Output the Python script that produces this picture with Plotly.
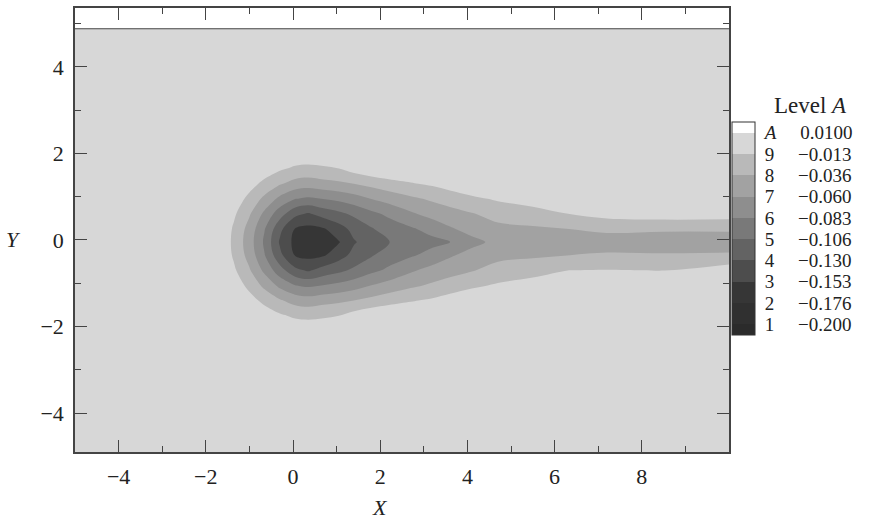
import plotly.graph_objects as go

# ---- grid nodes ----
x_nodes = [-5, -3, -2.1, -1.7, -1.35, -1.0, -0.65, -0.3, 0.05, 0.35, 0.7, 1.05, 1.4,
           1.8, 2.2, 2.7, 3.2, 3.6, 4.1, 4.7, 5.5, 6.3, 7.2, 8.5, 10]
y_nodes = [-4.9, -3.0, -2.2, -1.75, -1.4, -1.05, -0.7, -0.35, -0.05, 0.25, 0.6, 0.95,
           1.3, 1.65, 2.1, 3.0, 4.88]

# ---- field values, one row per y node (bottom to top) ----
row_far = [-0.002] * 25
row_b215 = [-0.002, -0.002, -0.002, -0.002, -0.002, -0.002, 0.008, 0.008, 0.008, 0.008, 0.008, 0.008,
            -0.002, -0.002, -0.002, -0.002, -0.002, -0.002, -0.002, -0.002, -0.002, -0.002, -0.002, -0.002, -0.002]
row_b170 = [-0.002, -0.002, -0.002, -0.002, -0.002, 0.008, 0.0014, -0.010, -0.0171, -0.019, -0.0166, -0.0135,
            -0.0037, 0.0045, 0.008, 0.008, -0.002, -0.002, -0.002, -0.002, -0.002, -0.002, -0.002, -0.002, -0.002]
row_b135 = [-0.002, -0.002, -0.002, -0.002, 0.008, -0.0033, -0.0205, -0.0342, -0.0456, -0.0491, -0.0444, -0.0412,
            -0.0365, -0.0295, -0.0223, -0.0153, -0.0097, -0.003, 0.0036, -0.002, -0.002, -0.002, -0.002, -0.002, -0.002]
row_b100 = [-0.002, -0.002, -0.002, 0.008, 0.0014, -0.0205, -0.0423, -0.066, -0.0826, -0.0876, -0.083, -0.0775,
            -0.0703, -0.0598, -0.0509, -0.0412, -0.033, -0.0263, -0.0179, -0.0104, -0.002, -0.004, -0.004, -0.004, -0.002]
row_b065 = [-0.002, -0.002, -0.002, 0.008, -0.010, -0.0342, -0.066, -0.0971, -0.1244, -0.133, -0.1208, -0.1126,
            -0.1021, -0.0893, -0.0788, -0.0636, -0.0519, -0.0457, -0.0383, -0.0285, -0.024, -0.0135, -0.0125, -0.0138, -0.0005]
row_b030 = [-0.002, -0.002, -0.002, 0.008, -0.0171, -0.0456, -0.0826, -0.1244, -0.1549, -0.1599, -0.1562, -0.1401,
            -0.123, -0.109, -0.0957, -0.0868, -0.0752, -0.063, -0.0524, -0.043, -0.040, -0.037, -0.0342, -0.0352, -0.0346]
row_axis = [-0.002, -0.002, -0.002, 0.0073, -0.019, -0.0491, -0.0876, -0.133, -0.1599, -0.172, -0.170, -0.155,
            -0.132, -0.119, -0.107, -0.098, -0.0898, -0.0835, -0.0664, -0.054, -0.052, -0.049, -0.047, -0.046, -0.045]
row_t030 = [-0.002, -0.002, -0.002, 0.008, -0.0171, -0.0456, -0.0826, -0.1244, -0.1549, -0.1599, -0.1562, -0.1401,
            -0.123, -0.109, -0.0957, -0.0868, -0.0752, -0.063, -0.0524, -0.043, -0.040, -0.037, -0.0324, -0.0344, -0.0346]
row_t065 = [-0.002, -0.002, -0.002, 0.008, -0.010, -0.0342, -0.066, -0.0971, -0.1244, -0.133, -0.1208, -0.1126,
            -0.1021, -0.0893, -0.0788, -0.0636, -0.0519, -0.0457, -0.0383, -0.0285, -0.024, -0.0135, -0.0052, -0.001, -0.0017]
row_t100 = [-0.002, -0.002, -0.002, 0.008, 0.0014, -0.0205, -0.0423, -0.066, -0.0826, -0.0876, -0.083, -0.0775,
            -0.0703, -0.0598, -0.0509, -0.0412, -0.033, -0.0263, -0.0179, -0.0104, -0.002, -0.004, -0.002, -0.002, -0.002]
row_t135 = row_b135
row_t170 = row_b170
row_t215 = row_b215

z_rows = [row_far, row_far, row_b215, row_b170, row_b135, row_b100, row_b065, row_b030, row_axis,
          row_t030, row_t065, row_t100, row_t135, row_t170, row_t215, row_far, row_far]

# ---- legend levels ----
level_names = ['1', '2', '3', '4', '5', '6', '7', '8', '9', '<i>A</i>']
level_text = ['\u22120.200', '\u22120.176', '\u22120.153', '\u22120.130', '\u22120.106',
              '\u22120.083', '\u22120.060', '\u22120.036', '\u22120.013', '0.0100']
level_start = -0.200
level_end = 0.0100

band_colors = ['#2b2b2b', '#303030', '#363636', '#4d4d4d', '#636363', '#797979',
               '#8e8e8e', '#a2a2a2', '#b9b9b9', '#d7d7d7', '#ffffff']

n_lev = len(level_names)
level_size = (level_end - level_start) / (n_lev - 1)
tickvals = [level_start + i * level_size for i in range(n_lev)]
ticktext = [n + '\u00a0' * 5 + t for n, t in zip(level_names, level_text)]
colorscale = [[i / (len(band_colors) - 1), c] for i, c in enumerate(band_colors)]

FONT = 'Liberation Serif'
INK = '#222222'

fig = go.Figure()
fig.add_trace(go.Contour(
    x=x_nodes, y=y_nodes, z=z_rows,
    autocontour=False,
    contours=dict(start=level_start, end=level_end, size=level_size, coloring='fill', showlines=False),
    line=dict(width=0, smoothing=1.0),
    colorscale=colorscale,
    colorbar=dict(
        x=1.0, xanchor='left', xpad=3,
        y=(452 - 227.5) / 446, yanchor='middle', len=213, lenmode='pixels', ypad=0,
        thickness=23, thicknessmode='pixels',
        outlinewidth=1, outlinecolor='#333333',
        tickmode='array', tickvals=tickvals, ticktext=ticktext,
        ticks='outside', ticklen=6, tickcolor='rgba(0,0,0,0)',
        tickfont=dict(family=FONT, size=19, color=INK),
    ),
    hoverinfo='skip',
))

fig.add_shape(type='line', xref='x', yref='y',
              x0=x_nodes[0], x1=x_nodes[-1], y0=y_nodes[-1], y1=y_nodes[-1],
              line=dict(color='#555555', width=1))

axis_common = dict(
    showline=True, linecolor='#444444', linewidth=1.5, mirror='ticks',
    ticks='inside', ticklen=12, tickwidth=1.2, tickcolor='#444444',
    showgrid=False, zeroline=False,
    tickfont=dict(family=FONT, size=22, color=INK),
    minor=dict(ticks='inside', ticklen=6, tickwidth=1.2, tickcolor='#444444', dtick=1, tick0=0, showgrid=False),
)

fig.update_xaxes(range=[-5, 10], tickmode='array', tickvals=[-4, -2, 0, 2, 4, 6, 8],
                 ticklabelstandoff=4, **axis_common)
fig.update_yaxes(range=[-4.9, 5.36], tickmode='array', tickvals=[-4, -2, 0, 2, 4],
                 ticklabelstandoff=5, **axis_common)

fig.add_annotation(text='Level <i>A</i>', xref='paper', yref='paper',
                   x=(772 - 75) / 654, y=(452 - 104) / 446, xanchor='left', yanchor='middle',
                   showarrow=False, font=dict(family=FONT, size=23, color=INK))
fig.add_annotation(text='<i>Y</i>', xref='paper', yref='y', x=(13 - 75) / 654, y=0,
                   xanchor='center', yanchor='middle', showarrow=False,
                   font=dict(family=FONT, size=22, color=INK))
fig.add_annotation(text='<i>X</i>', xref='x', yref='paper', x=2, y=(452 - 508) / 446,
                   xanchor='center', yanchor='middle', showarrow=False,
                   font=dict(family=FONT, size=22, color=INK))

fig.update_layout(
    width=883, height=527,
    margin=dict(l=75, r=154, t=6, b=75),
    paper_bgcolor='white', plot_bgcolor='white',
    showlegend=False,
)

fig.write_html('out.html', config={'displayModeBar': False},
               post_script="document.body.style.margin='0';document.body.style.padding='0';")
